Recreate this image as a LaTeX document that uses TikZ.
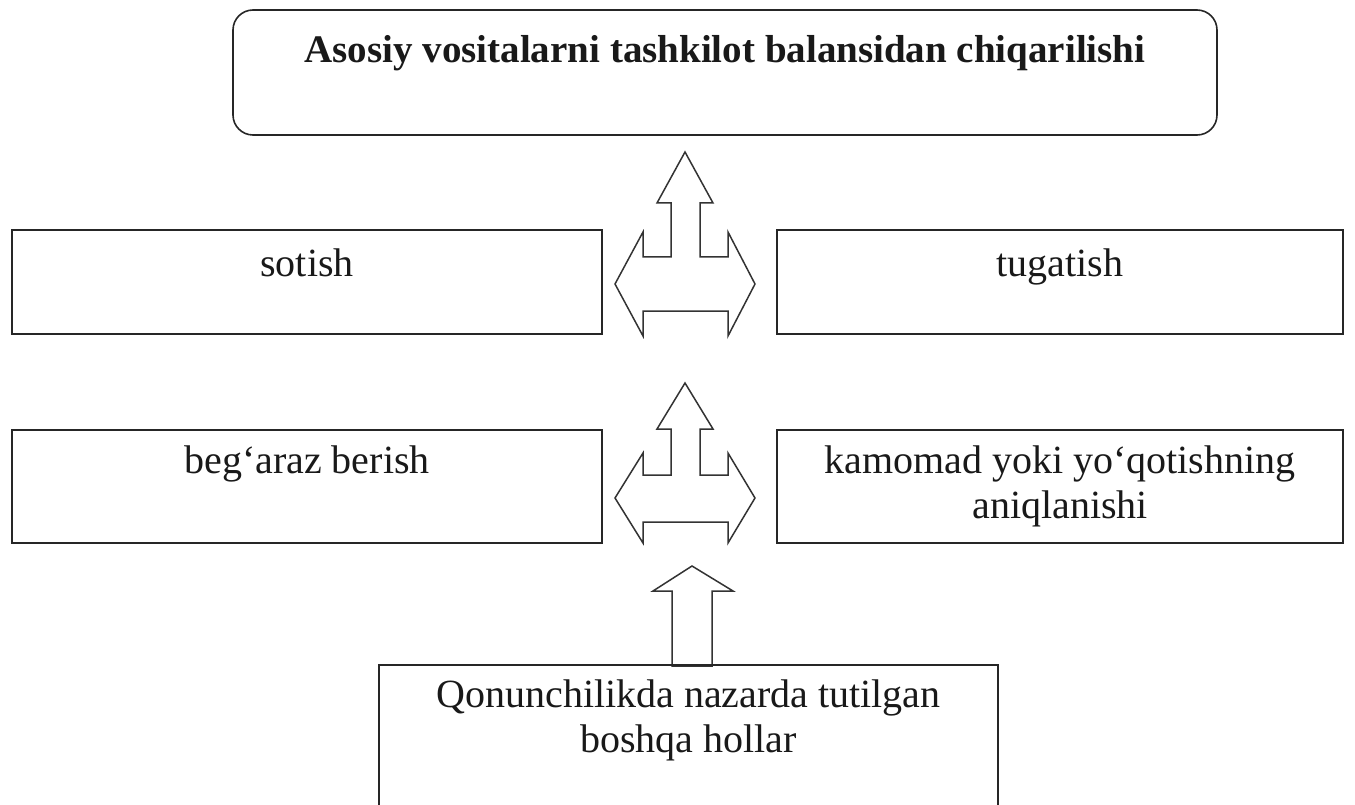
\documentclass[tikz,border=0pt]{standalone}
\usepackage{fontspec}
\setmainfont{Liberation Serif}
\begin{document}
\begin{tikzpicture}[x=1pt,y=-1pt,
  box/.style={draw=black!85, line width=1.6pt, inner sep=0pt},
  lbl/.style={inner sep=0pt, anchor=north, align=center, text=black!90, font=\fontsize{40}{45}\selectfont},
  blockarrow/.style={draw=black!80, line width=1.5pt, line join=miter, fill=white}]
\clip (0,0) rectangle (1355,805);
\fill[white] (0,0) rectangle (1355,805);

% boxes
\node[box, rounded corners=20pt, minimum width=984pt, minimum height=125pt] (top) at (725,72.5) {};
\node[box, minimum width=590pt, minimum height=104pt] (sot) at (307,282) {};
\node[box, minimum width=566pt, minimum height=104pt] (tug) at (1060,282) {};
\node[box, minimum width=590pt, minimum height=113pt] (beg) at (307,486.5) {};
\node[box, minimum width=566pt, minimum height=113pt] (kam) at (1060,486.5) {};

% block arrows
\draw[blockarrow] (692,566) -- (733,591) -- (712,591) -- (712,666) -- (672,666) -- (672,591) -- (653,591) -- cycle;
\draw[blockarrow] (685,152) -- (713,203) -- (700,203) -- (700,257) -- (728,257) -- (728,232) -- (755,284)
  -- (728,336) -- (728,311) -- (643,311) -- (643,336) -- (615,284) -- (643,232) -- (643,257)
  -- (671,257) -- (671,203) -- (657,203) -- cycle;
\draw[blockarrow] (685,383) -- (713,429) -- (700,429) -- (700,475) -- (728,475) -- (728,453) -- (755,498)
  -- (728,543) -- (728,522) -- (643,522) -- (643,543) -- (615,498) -- (643,453) -- (643,475)
  -- (671,475) -- (671,429) -- (657,429) -- cycle;

\node[box, minimum width=619pt, minimum height=155pt] (oth) at (688.5,742.5) {};

% texts
\node[lbl, font=\fontsize{39}{45}\selectfont\bfseries] (ttl) at (725,30) {\rule{0pt}{32pt}Asosiy vositalarni tashkilot balansidan chiqarilishi};
\node[lbl] (tsot) at (307,244) {\rule{0pt}{32pt}sotish};
\node[lbl] (ttug) at (1060,244) {\rule{0pt}{32pt}tugatish};
\node[lbl] (tbeg) at (307,441) {\rule{0pt}{32pt}beg‘araz berish};
\node[lbl] (tkam) at (1060,441) {\rule{0pt}{32pt}kamomad yoki yo‘qotishning\\aniqlanishi};
\node[lbl] (toth) at (688.5,675) {\rule{0pt}{32pt}Qonunchilikda nazarda tutilgan\\boshqa hollar};
\end{tikzpicture}
\end{document}
